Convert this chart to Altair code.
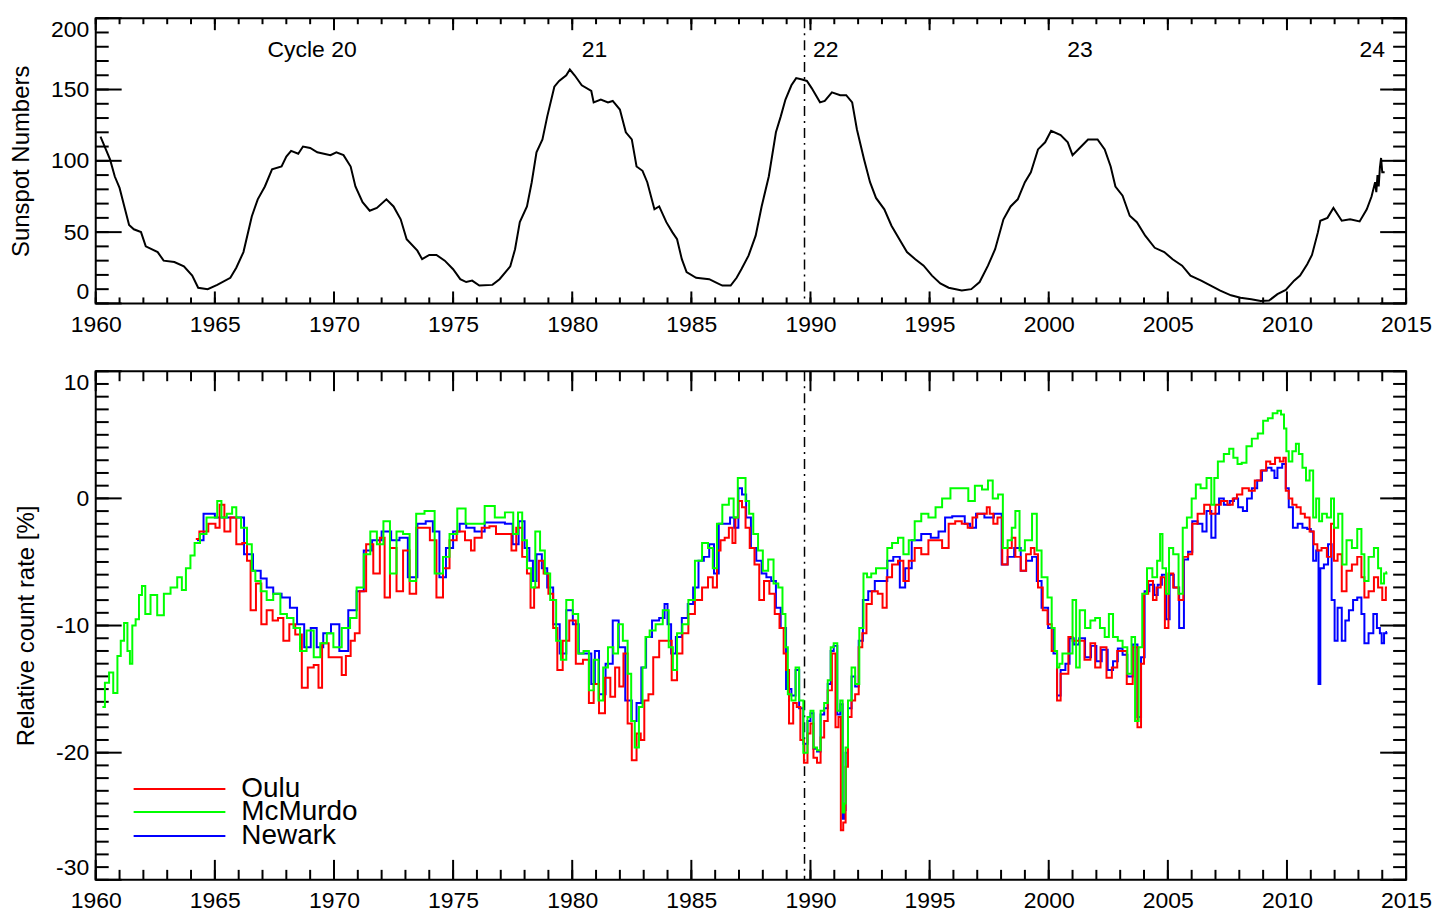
import altair as alt
import pandas as pd

# ---------------- data ----------------
sunspot = [
    (1960.2, 117), (1960.6, 101), (1960.8, 89), (1961.0, 81), (1961.2, 68), (1961.4, 55), (1961.6, 52),
    (1961.9, 50), (1962.1, 40), (1962.6, 36), (1962.85, 30), (1963.3, 29), (1963.7, 26), (1964.05, 19.5),
    (1964.3, 11), (1964.7, 10), (1965.1, 13), (1965.65, 18), (1965.9, 25), (1966.2, 36), (1966.55, 61),
    (1966.8, 73), (1967.1, 82), (1967.4, 94), (1967.8, 96), (1968.0, 103), (1968.2, 107), (1968.5, 105),
    (1968.7, 110), (1969.0, 109), (1969.3, 106), (1969.85, 104), (1970.1, 106), (1970.4, 104), (1970.7, 96),
    (1970.9, 82), (1971.2, 71), (1971.5, 65), (1971.8, 67), (1972.2, 73), (1972.5, 68), (1972.8, 59),
    (1973.05, 45), (1973.5, 37), (1973.7, 31), (1974.0, 34), (1974.3, 34), (1974.65, 30), (1975.0, 24),
    (1975.3, 17), (1975.55, 15), (1975.8, 16), (1976.1, 12.5), (1976.65, 13), (1976.95, 17), (1977.4, 26),
    (1977.6, 38), (1977.8, 57), (1978.1, 68), (1978.3, 85), (1978.5, 106), (1978.75, 115), (1978.95, 131),
    (1979.25, 152), (1979.45, 156), (1979.75, 160), (1979.9, 164), (1980.1, 160), (1980.4, 153), (1980.8, 149),
    (1980.9, 141), (1981.2, 143), (1981.5, 141), (1981.7, 142), (1982.0, 136), (1982.25, 120), (1982.5, 115),
    (1982.7, 96), (1982.95, 93), (1983.15, 85), (1983.45, 66), (1983.65, 68), (1983.95, 57), (1984.2, 50),
    (1984.4, 45), (1984.6, 31), (1984.8, 22), (1985.2, 18), (1985.75, 17), (1986.0, 15), (1986.3, 12.5),
    (1986.65, 12.5), (1986.9, 18), (1987.1, 24), (1987.4, 33.5), (1987.7, 47.5), (1987.95, 68), (1988.25, 89),
    (1988.55, 120), (1988.75, 131), (1988.95, 143), (1989.2, 153), (1989.4, 158), (1989.65, 157), (1989.85, 156),
    (1990.05, 151), (1990.4, 141), (1990.6, 142), (1990.9, 148), (1991.25, 146), (1991.5, 146), (1991.75, 141),
    (1991.95, 122), (1992.25, 101), (1992.5, 85), (1992.75, 74), (1993.1, 66), (1993.4, 54.5), (1993.8, 43),
    (1994.05, 36), (1994.4, 31), (1994.75, 26.5), (1995.1, 19.5), (1995.45, 14), (1995.8, 11), (1996.35, 9),
    (1996.75, 10), (1997.1, 15), (1997.45, 26.5), (1997.75, 38), (1998.1, 59), (1998.4, 68), (1998.7, 73),
    (1999.0, 85), (1999.25, 92), (1999.55, 108), (1999.85, 113), (2000.1, 121), (2000.5, 118), (2000.8, 113),
    (2001.0, 104), (2001.3, 109), (2001.65, 115), (2002.05, 115), (2002.35, 108), (2002.6, 96), (2002.8, 82),
    (2003.1, 75.5), (2003.4, 61.5), (2003.7, 57), (2004.05, 47.5), (2004.45, 39), (2004.85, 36), (2005.2, 31),
    (2005.6, 26.5), (2005.95, 19.5), (2006.4, 16), (2006.8, 12.5), (2007.2, 9), (2007.65, 5.7), (2008.05, 4),
    (2008.5, 3), (2008.9, 1.7), (2009.25, 2), (2009.6, 6.5), (2009.95, 9.5), (2010.3, 16), (2010.55, 19.5),
    (2010.85, 27.5), (2011.05, 34), (2011.3, 50), (2011.4, 58), (2011.7, 60), (2011.95, 67), (2012.3, 58),
    (2012.65, 59), (2013.05, 57.5), (2013.35, 66), (2013.55, 75), (2013.7, 85), (2013.75, 78), (2013.8, 90),
    (2013.85, 82), (2013.9, 95), (2013.95, 102), (2014.0, 92), (2014.1, 92),
]

mcmurdo = [
    (1960.28, -16.4), (1960.49, -14.5), (1960.63, -13.7), (1960.84, -15.3), (1960.98, -12.4), (1961.12, -11.2),
    (1961.26, -9.8), (1961.4, -12.0), (1961.47, -13.0), (1961.6, -10.0), (1961.75, -9.5), (1961.88, -7.6),
    (1962.0, -6.9), (1962.16, -9.1), (1962.44, -7.6), (1962.72, -9.2), (1963.0, -7.5), (1963.28, -7.0),
    (1963.56, -6.2), (1963.67, -7.2), (1963.9, -5.5), (1964.05, -4.5), (1964.25, -3.5), (1964.5, -2.8),
    (1964.8, -1.5), (1965.0, -1.5), (1965.2, -0.2), (1965.35, -1.5), (1965.65, -1.2), (1965.8, -0.7),
    (1966.0, -1.5), (1966.2, -2.3), (1966.5, -3.6), (1966.6, -5.7), (1966.8, -6.5), (1967.05, -7.3),
    (1967.3, -8.0), (1967.6, -7.5), (1967.9, -9.1), (1968.15, -9.4), (1968.45, -10.2), (1968.7, -12.0),
    (1969.0, -10.4), (1969.3, -12.5), (1969.55, -11.4), (1969.85, -10.6), (1970.1, -11.7), (1970.55, -10.2),
    (1970.8, -9.4), (1971.1, -7.0), (1971.4, -4.4), (1971.65, -2.6), (1971.95, -3.6), (1972.2, -1.8),
    (1972.5, -5.9), (1972.75, -2.6), (1973.05, -2.8), (1973.3, -6.5), (1973.6, -1.2), (1974.0, -1.0),
    (1974.45, -5.9), (1974.7, -4.6), (1975.0, -2.8), (1975.35, -0.8), (1975.7, -2.0), (1976.1, -2.0),
    (1976.55, -0.6), (1976.95, -1.5), (1977.4, -1.1), (1977.65, -2.8), (1977.8, -1.1), (1978.0, -3.3),
    (1978.2, -5.5), (1978.35, -7.0), (1978.55, -2.6), (1978.75, -4.1), (1978.95, -5.9), (1979.2, -8.0),
    (1979.45, -11.2), (1979.6, -12.7), (1979.9, -8.0), (1980.15, -9.1), (1980.35, -12.2), (1980.6, -12.0),
    (1980.8, -15.1), (1981.0, -12.7), (1981.2, -15.9), (1981.4, -13.3), (1981.6, -11.7), (1981.85, -12.2),
    (1982.0, -9.9), (1982.25, -11.2), (1982.4, -13.8), (1982.55, -17.5), (1982.7, -19.6), (1982.9, -16.4),
    (1983.0, -13.3), (1983.15, -10.9), (1983.35, -10.4), (1983.65, -9.9), (1983.95, -8.8), (1984.15, -11.7),
    (1984.3, -13.5), (1984.5, -10.6), (1984.75, -9.9), (1985.0, -8.0), (1985.3, -4.9), (1985.6, -3.5),
    (1985.8, -3.9), (1986.0, -5.5), (1986.15, -2.0), (1986.45, -0.5), (1986.7, 0.0), (1986.85, -1.5),
    (1987.05, 1.6), (1987.2, 1.6), (1987.35, -0.2), (1987.5, -1.2), (1987.7, -2.8), (1987.9, -4.1),
    (1988.1, -5.7), (1988.35, -4.8), (1988.55, -6.7), (1988.75, -7.0), (1988.9, -9.1), (1989.0, -11.7),
    (1989.1, -15.4), (1989.3, -15.9), (1989.45, -13.3), (1989.6, -15.9), (1989.8, -20.0), (1989.95, -17.2),
    (1990.05, -16.7), (1990.2, -19.6), (1990.35, -19.8), (1990.5, -16.7), (1990.65, -16.1), (1990.8, -14.3),
    (1990.9, -11.7), (1991.05, -11.4), (1991.2, -16.7), (1991.3, -15.9), (1991.4, -24.7), (1991.45, -24.0),
    (1991.5, -19.6), (1991.65, -15.9), (1991.8, -13.3), (1991.95, -14.6), (1992.15, -10.2), (1992.3, -5.9),
    (1992.45, -6.2), (1992.65, -5.9), (1992.85, -5.5), (1993.15, -5.5), (1993.3, -3.9), (1993.55, -3.5),
    (1993.8, -3.1), (1994.0, -4.4), (1994.25, -3.3), (1994.5, -1.8), (1994.8, -1.2), (1995.1, -1.5),
    (1995.4, -0.7), (1995.65, 0.0), (1996.1, 0.8), (1996.5, 0.8), (1996.75, -0.2), (1997.05, 1.0),
    (1997.35, 0.7), (1997.55, 1.4), (1997.75, 0.0), (1998.0, 0.3), (1998.15, -3.9), (1998.4, -3.3),
    (1998.5, -2.3), (1998.7, -1.0), (1998.85, -4.1), (1999.15, -3.3), (1999.45, -1.2), (1999.55, -4.1),
    (1999.85, -6.2), (2000.05, -7.8), (2000.2, -10.2), (2000.3, -12.0), (2000.4, -13.3), (2000.5, -13.0),
    (2000.65, -12.2), (2000.9, -12.2), (2001.1, -8.0), (2001.2, -13.3), (2001.4, -8.8), (2001.65, -10.2),
    (2001.85, -9.6), (2002.05, -9.4), (2002.25, -10.2), (2002.45, -10.9), (2002.6, -9.1), (2002.8, -10.9),
    (2003.0, -11.2), (2003.2, -11.7), (2003.4, -13.8), (2003.55, -10.9), (2003.7, -17.5), (2003.85, -11.7),
    (2004.0, -7.5), (2004.25, -5.5), (2004.45, -6.2), (2004.65, -4.9), (2004.7, -2.8), (2004.85, -5.5),
    (2005.0, -7.5), (2005.1, -3.9), (2005.35, -4.4), (2005.55, -7.5), (2005.7, -2.3), (2005.9, -1.5),
    (2006.1, 0.0), (2006.25, 1.1), (2006.5, 0.8), (2006.75, 1.6), (2006.9, -0.5), (2007.0, 1.6),
    (2007.2, 2.9), (2007.5, 3.5), (2007.65, 3.9), (2007.85, 3.2), (2008.0, 2.7), (2008.2, 2.8),
    (2008.4, 4.1), (2008.65, 4.7), (2008.9, 5.1), (2009.1, 6.1), (2009.3, 6.3), (2009.5, 6.7),
    (2009.7, 6.9), (2009.8, 6.6), (2009.95, 5.5), (2010.0, 3.7), (2010.15, 2.9), (2010.3, 3.7),
    (2010.45, 4.3), (2010.55, 3.5), (2010.75, 2.4), (2010.85, 1.4), (2011.05, 2.2), (2011.15, -1.5),
    (2011.3, 0.0), (2011.4, -1.8), (2011.55, -1.2), (2011.8, -1.5), (2011.9, 0.0), (2012.05, -2.3),
    (2012.25, -1.2), (2012.4, -5.2), (2012.6, -3.3), (2012.85, -3.9), (2013.05, -2.4), (2013.2, -4.4),
    (2013.3, -6.5), (2013.55, -4.6), (2013.75, -3.9), (2013.9, -5.5), (2014.0, -6.7), (2014.15, -5.9),
    (2014.2, -5.8),
]

oulu = [
    (1964.2, -3.2), (1964.5, -2.6), (1964.95, -2.0), (1965.1, -2.3), (1965.3, -0.5), (1965.5, -2.6),
    (1965.8, -1.5), (1966.0, -3.6), (1966.3, -3.5), (1966.4, -4.9), (1966.6, -8.8), (1966.85, -6.7),
    (1967.05, -9.9), (1967.3, -8.8), (1967.55, -9.6), (1967.75, -9.4), (1968.0, -11.2), (1968.25, -9.9),
    (1968.5, -10.7), (1968.8, -14.9), (1969.0, -13.3), (1969.3, -13.1), (1969.4, -14.9), (1969.6, -11.4),
    (1969.95, -12.5), (1970.25, -12.5), (1970.4, -13.9), (1970.6, -12.4), (1970.8, -11.2), (1970.95, -10.6),
    (1971.2, -7.3), (1971.5, -3.6), (1971.8, -5.9), (1972.05, -3.1), (1972.2, -7.8), (1972.5, -3.9),
    (1972.75, -7.3), (1973.05, -4.1), (1973.3, -7.5), (1973.6, -2.3), (1973.9, -2.3), (1974.15, -3.3),
    (1974.45, -7.8), (1974.7, -5.5), (1975.0, -3.3), (1975.3, -2.6), (1975.7, -3.3), (1975.8, -4.1),
    (1976.0, -3.1), (1976.4, -2.3), (1976.65, -2.2), (1976.95, -2.8), (1977.4, -2.8), (1977.5, -4.1),
    (1977.8, -2.3), (1978.0, -4.6), (1978.2, -5.9), (1978.3, -8.6), (1978.5, -7.0), (1978.7, -4.9),
    (1978.9, -5.9), (1979.1, -7.5), (1979.3, -10.2), (1979.45, -13.5), (1979.75, -11.2), (1980.0, -9.6),
    (1980.3, -13.0), (1980.6, -12.7), (1980.8, -16.1), (1981.0, -14.6), (1981.25, -16.9), (1981.5, -14.1),
    (1981.7, -15.6), (1981.9, -13.3), (1982.05, -14.8), (1982.25, -12.2), (1982.4, -17.7), (1982.6, -20.6),
    (1982.8, -18.5), (1982.95, -19.0), (1983.1, -15.9), (1983.3, -15.4), (1983.5, -12.5), (1983.8, -11.2),
    (1984.05, -11.2), (1984.3, -14.3), (1984.5, -12.2), (1984.75, -10.6), (1985.0, -9.1), (1985.3, -8.0),
    (1985.6, -7.0), (1985.8, -6.2), (1986.0, -7.0), (1986.15, -4.1), (1986.3, -3.3), (1986.5, -3.1),
    (1986.65, -2.3), (1986.8, -3.5), (1986.9, -1.5), (1987.05, -0.2), (1987.2, -0.7), (1987.35, -2.3),
    (1987.55, -3.9), (1987.75, -5.2), (1987.95, -8.0), (1988.15, -6.5), (1988.4, -7.5), (1988.6, -9.1),
    (1988.8, -10.2), (1988.95, -12.2), (1989.0, -13.5), (1989.2, -17.7), (1989.35, -16.1), (1989.5, -16.4),
    (1989.65, -19.0), (1989.8, -20.8), (1989.95, -18.5), (1990.05, -17.7), (1990.2, -20.4), (1990.35, -20.8),
    (1990.5, -18.8), (1990.65, -17.5), (1990.8, -15.1), (1991.0, -12.2), (1991.1, -18.0), (1991.25, -17.2),
    (1991.3, -26.1), (1991.45, -25.5), (1991.5, -21.1), (1991.65, -17.2), (1991.8, -15.9), (1991.95, -15.4),
    (1992.1, -11.7), (1992.25, -10.6), (1992.45, -8.3), (1992.7, -7.3), (1992.95, -7.5), (1993.1, -8.6),
    (1993.3, -6.2), (1993.55, -5.2), (1993.8, -4.9), (1994.0, -6.5), (1994.25, -4.9), (1994.5, -3.9),
    (1994.8, -4.4), (1995.1, -3.3), (1995.4, -3.3), (1995.65, -3.9), (1995.95, -2.0), (1996.2, -1.8),
    (1996.5, -2.0), (1996.7, -2.3), (1996.9, -1.5), (1997.1, -1.2), (1997.35, -1.2), (1997.45, -0.7),
    (1997.6, -1.2), (1997.75, -2.0), (1997.95, -1.5), (1998.15, -5.2), (1998.4, -3.9), (1998.5, -3.1),
    (1998.7, -4.6), (1998.95, -5.7), (1999.15, -4.4), (1999.35, -3.9), (1999.45, -4.4), (1999.65, -7.0),
    (1999.85, -8.8), (2000.05, -9.9), (2000.2, -12.0), (2000.3, -12.0), (2000.4, -15.9), (2000.6, -13.8),
    (2000.75, -13.8), (2000.9, -10.9), (2001.1, -11.2), (2001.35, -11.2), (2001.65, -12.7), (2001.85, -11.4),
    (2002.05, -13.3), (2002.3, -11.7), (2002.55, -14.1), (2002.75, -13.3), (2003.0, -12.0), (2003.15, -12.0),
    (2003.4, -14.6), (2003.65, -11.7), (2003.8, -18.0), (2003.95, -13.0), (2004.05, -7.5), (2004.3, -6.5),
    (2004.45, -8.0), (2004.6, -7.0), (2004.8, -6.2), (2004.95, -10.2), (2005.1, -5.9), (2005.35, -7.0),
    (2005.55, -8.0), (2005.75, -4.6), (2005.95, -4.4), (2006.1, -2.0), (2006.4, -1.2), (2006.65, -0.5),
    (2006.9, -1.2), (2007.1, -0.5), (2007.35, -0.2), (2007.65, -0.5), (2007.8, 0.0), (2008.0, 0.3),
    (2008.25, 0.8), (2008.55, 0.6), (2008.75, 1.4), (2009.05, 2.2), (2009.2, 2.9), (2009.4, 2.7),
    (2009.6, 3.2), (2009.8, 2.9), (2009.9, 3.2), (2010.0, 0.6), (2010.15, 0.0), (2010.3, -0.5),
    (2010.5, -0.7), (2010.65, -1.2), (2010.85, -1.5), (2011.05, -2.6), (2011.2, -3.6), (2011.35, -4.1),
    (2011.55, -3.9), (2011.8, -4.6), (2011.9, -2.0), (2012.05, -4.9), (2012.2, -4.4), (2012.4, -7.3),
    (2012.6, -5.7), (2012.85, -5.2), (2013.05, -4.6), (2013.2, -6.2), (2013.3, -7.8), (2013.55, -7.3),
    (2013.75, -6.2), (2013.9, -7.0), (2014.1, -8.0), (2014.2, -7.0),
]

newark = [
    (1964.25, -3.3), (1964.8, -1.2), (1965.2, -1.5), (1965.8, -1.5), (1966.05, -1.5), (1966.4, -4.4),
    (1966.8, -5.7), (1967.05, -6.3), (1967.3, -7.0), (1967.6, -7.5), (1968.0, -7.8), (1968.3, -8.6),
    (1968.6, -9.9), (1968.9, -11.7), (1969.15, -10.2), (1969.4, -11.7), (1969.7, -10.6), (1970.05, -9.9),
    (1970.4, -12.0), (1970.8, -8.8), (1971.1, -7.3), (1971.4, -4.1), (1971.8, -3.3), (1972.2, -2.6),
    (1972.6, -3.3), (1972.9, -3.1), (1973.3, -6.2), (1973.7, -2.0), (1974.0, -1.8), (1974.3, -2.6),
    (1974.55, -6.2), (1974.85, -3.9), (1975.15, -2.6), (1975.4, -2.0), (1975.7, -2.3), (1976.1, -2.6),
    (1976.55, -1.9), (1976.95, -1.9), (1977.4, -2.0), (1977.6, -3.6), (1977.9, -1.8), (1978.1, -3.9),
    (1978.3, -4.9), (1978.4, -6.5), (1978.6, -4.4), (1978.85, -5.5), (1979.05, -7.0), (1979.35, -9.9),
    (1979.6, -12.2), (1979.9, -8.8), (1980.15, -9.9), (1980.4, -12.2), (1980.7, -12.2), (1980.9, -14.6),
    (1981.0, -12.0), (1981.25, -15.4), (1981.55, -13.0), (1981.85, -9.6), (1982.05, -11.7), (1982.4, -15.9),
    (1982.6, -17.5), (1982.8, -16.1), (1983.0, -13.3), (1983.2, -10.9), (1983.5, -9.6), (1983.8, -9.4),
    (1983.95, -8.3), (1984.05, -9.9), (1984.25, -12.2), (1984.45, -10.9), (1984.75, -9.4), (1984.95, -8.3),
    (1985.2, -7.0), (1985.4, -4.9), (1985.65, -4.6), (1985.85, -3.6), (1986.05, -5.9), (1986.25, -2.0),
    (1986.55, -2.0), (1986.7, -1.5), (1986.9, -2.3), (1987.05, 0.8), (1987.2, 0.3), (1987.4, -1.5),
    (1987.6, -3.9), (1987.85, -4.9), (1988.05, -5.9), (1988.25, -6.2), (1988.45, -6.5), (1988.65, -8.6),
    (1988.85, -10.2), (1989.1, -15.0), (1989.3, -15.5), (1989.45, -13.5), (1989.6, -16.5), (1989.8, -19.3),
    (1989.95, -17.5), (1990.05, -16.9), (1990.2, -19.7), (1990.35, -19.9), (1990.5, -17.0), (1990.65, -16.5),
    (1990.8, -14.6), (1990.9, -12.0), (1991.05, -11.6), (1991.2, -17.0), (1991.3, -16.2), (1991.4, -25.2),
    (1991.45, -24.5), (1991.5, -20.0), (1991.65, -16.5), (1991.8, -14.0), (1991.95, -14.8), (1992.1, -11.2),
    (1992.3, -8.0), (1992.55, -7.3), (1992.85, -6.5), (1993.1, -6.5), (1993.35, -4.9), (1993.6, -4.6),
    (1993.9, -7.0), (1994.05, -5.5), (1994.45, -3.3), (1994.85, -2.8), (1995.25, -3.1), (1995.5, -2.6),
    (1995.8, -1.5), (1996.1, -1.4), (1996.35, -1.4), (1996.6, -2.0), (1996.8, -2.3), (1997.1, -1.2),
    (1997.5, -1.5), (1997.9, -1.2), (1998.15, -5.2), (1998.4, -4.6), (1998.7, -3.9), (1998.95, -5.7),
    (1999.15, -4.9), (1999.45, -4.6), (1999.55, -6.5), (1999.85, -8.6), (2000.1, -10.2), (2000.3, -12.2),
    (2000.4, -15.5), (2000.6, -13.5), (2000.8, -13.0), (2000.95, -11.0), (2001.15, -11.5), (2001.4, -11.0),
    (2001.65, -12.5), (2001.9, -11.6), (2002.1, -12.8), (2002.35, -11.9), (2002.6, -13.5), (2002.8, -12.8),
    (2003.0, -11.8), (2003.2, -12.3), (2003.4, -14.0), (2003.65, -11.5), (2003.8, -17.2), (2003.95, -12.5),
    (2004.1, -7.3), (2004.35, -6.8), (2004.5, -7.6), (2004.65, -6.8), (2004.85, -6.0), (2005.0, -9.5),
    (2005.15, -6.0), (2005.35, -7.0), (2005.6, -10.2), (2005.75, -4.8), (2005.95, -4.2), (2006.1, -1.8),
    (2006.4, -2.0), (2006.5, -2.6), (2006.75, -1.0), (2006.9, -3.1), (2007.1, -1.2), (2007.2, 0.0),
    (2007.5, -0.5), (2007.7, -0.2), (2007.85, 0.0), (2008.05, -0.7), (2008.25, -1.0), (2008.4, 0.0),
    (2008.65, 0.8), (2008.85, 1.4), (2009.05, 2.2), (2009.25, 2.4), (2009.45, 2.2), (2009.5, 1.6),
    (2009.7, 2.4), (2009.9, 2.7), (2010.0, 0.8), (2010.15, -0.7), (2010.35, -2.3), (2010.55, -2.0),
    (2010.75, -2.3), (2010.95, -2.4), (2011.05, -2.6), (2011.15, -4.9), (2011.3, -4.1), (2011.35, -14.6),
    (2011.45, -5.5), (2011.65, -5.2), (2011.8, -3.6), (2011.95, -8.0), (2012.05, -11.2), (2012.2, -8.6),
    (2012.4, -11.2), (2012.5, -9.6), (2012.7, -8.8), (2012.85, -8.0), (2013.05, -7.8), (2013.2, -9.1),
    (2013.3, -11.4), (2013.55, -10.6), (2013.7, -9.1), (2013.85, -10.2), (2013.95, -10.6), (2014.0, -11.4),
    (2014.15, -10.6), (2014.2, -10.5),
]

cycle_labels = ["Cycle 20", "21", "22", "23", "24"]
cycle_years = [1969.08, 1980.93, 1990.64, 2001.31, 2013.58]
cycle_level = [178, 178, 178, 178, 178]

divider_year = [1989.75]

legend_names = ["Oulu", "McMurdo", "Newark"]
legend_colors = ["#ff0000", "#00ff00", "#0000ff"]

year_labels = list(range(1960, 2016, 5))
minor_years = list(range(1960, 2016))
ss_major = [0, 50, 100, 150, 200]
ss_minor = list(range(0, 201, 10))
cr_major = [10, 0, -10, -20, -30]
cr_minor = list(range(-30, 11))

# ---------------- layout ----------------
W, H1, H2 = 1314, 286, 510
FONT = "Liberation Sans"
FS = 23
TFS = 24

xscale = alt.Scale(domain=[1960, 2015], nice=False, zero=False)
xaxis = alt.Axis(values=year_labels, format="d", title=None, labelFontSize=FS, labelFlush=False,
                 labelPadding=10, ticks=False, domain=False, grid=False)

y1scale = alt.Scale(domain=[0, 200], nice=False, zero=False)
y1axis = alt.Axis(values=ss_major, labelExpr="datum.value + ''", title="Sunspot Numbers",
                  labelFontSize=FS, labelFlush=True, labelPadding=7, ticks=False, domain=False,
                  grid=False, titleFontSize=TFS, titlePadding=17)

y2scale = alt.Scale(domain=[-30, 10], nice=False, zero=False)
y2axis = alt.Axis(values=cr_major, labelExpr="datum.value + ''", title="Relative count rate [%]",
                  labelFontSize=FS, labelFlush=True, labelPadding=7, ticks=False, domain=False,
                  grid=False, titleFontSize=TFS, titlePadding=17)


def X(f):
    return alt.X(f"{f}:Q", scale=xscale, axis=xaxis)


def Y1(f):
    return alt.Y(f"{f}:Q", scale=y1scale, axis=y1axis)


def Y2(f):
    return alt.Y(f"{f}:Q", scale=y2scale, axis=y2axis)


def xticks(years, length, height):
    df = pd.DataFrame({"year": years})
    top = alt.Chart(df).mark_rule(color="black", strokeWidth=2).encode(
        x=X("year"), y=alt.value(0), y2=alt.value(length))
    bot = alt.Chart(df).mark_rule(color="black", strokeWidth=2).encode(
        x=X("year"), y=alt.value(height), y2=alt.value(height - length))
    return [top, bot]


def yticks(vals, length, Yf):
    df = pd.DataFrame({"value": vals})
    left = alt.Chart(df).mark_rule(color="black", strokeWidth=2).encode(
        y=Yf("value"), x=alt.value(0), x2=alt.value(length))
    right = alt.Chart(df).mark_rule(color="black", strokeWidth=2).encode(
        y=Yf("value"), x=alt.value(W - length), x2=alt.value(W))
    return [left, right]


dash = [10, 5, 2, 5]

# ---------------- top panel ----------------
ss_df = pd.DataFrame(sunspot, columns=["year", "value"])
top_layers = []
top_layers += xticks(minor_years, 6, H1)
top_layers += xticks(year_labels, 12, H1)
top_layers += yticks(ss_minor, 13, Y1)
top_layers += yticks(ss_major, 26, Y1)
top_layers.append(
    alt.Chart(pd.DataFrame({"year": divider_year})).mark_rule(
        color="black", strokeWidth=1.5, strokeDash=dash).encode(x=X("year")))
top_layers.append(
    alt.Chart(ss_df).mark_line(color="black", strokeWidth=2, clip=True).encode(
        x=X("year"), y=Y1("value")))
top_layers.append(
    alt.Chart(pd.DataFrame({"year": cycle_years, "value": cycle_level, "label": cycle_labels}))
    .mark_text(fontSize=FS, font=FONT, color="black", align="center", baseline="middle")
    .encode(x=X("year"), y=Y1("value"), text="label:N"))
top = alt.layer(*top_layers).properties(width=W, height=H1)

# ---------------- bottom panel ----------------
bot_layers = []
bot_layers += xticks(minor_years, 10, H2)
bot_layers += xticks(year_labels, 20, H2)
bot_layers += yticks(cr_minor, 13, Y2)
bot_layers += yticks(cr_major, 26, Y2)
bot_layers.append(
    alt.Chart(pd.DataFrame({"year": divider_year})).mark_rule(
        color="black", strokeWidth=1.5, strokeDash=dash).encode(x=X("year")))
for series, color in [(newark, legend_colors[2]), (oulu, legend_colors[0]), (mcmurdo, legend_colors[1])]:
    df = pd.DataFrame(series, columns=["year", "value"])
    bot_layers.append(
        alt.Chart(df).mark_line(color=color, strokeWidth=2, interpolate="step", clip=True)
        .encode(x=X("year"), y=Y2("value")))

legend_y = [419, 442, 466]
for name, color, ly in zip(legend_names, legend_colors, legend_y):
    ldf = pd.DataFrame({"name": [name]})
    bot_layers.append(
        alt.Chart(ldf).mark_rule(color=color, strokeWidth=2).encode(
            x=alt.value(38), x2=alt.value(130), y=alt.value(ly)))
    bot_layers.append(
        alt.Chart(ldf).mark_text(fontSize=28, font=FONT, color="black", align="left", baseline="middle")
        .encode(x=alt.value(146), y=alt.value(ly), text="name:N"))
bottom = alt.layer(*bot_layers).properties(width=W, height=H2)

chart = (
    alt.vconcat(top, bottom, spacing=32)
    .properties(padding={"left": 8, "top": 15, "right": 5, "bottom": 0}, background="white")
    .configure_view(stroke="black", strokeWidth=2)
    .configure_axis(labelFont=FONT, titleFont=FONT, labelColor="black", titleColor="black",
                    titleFontWeight="normal")
)

chart.save("out.html", embed_options={"renderer": "svg", "actions": False})
